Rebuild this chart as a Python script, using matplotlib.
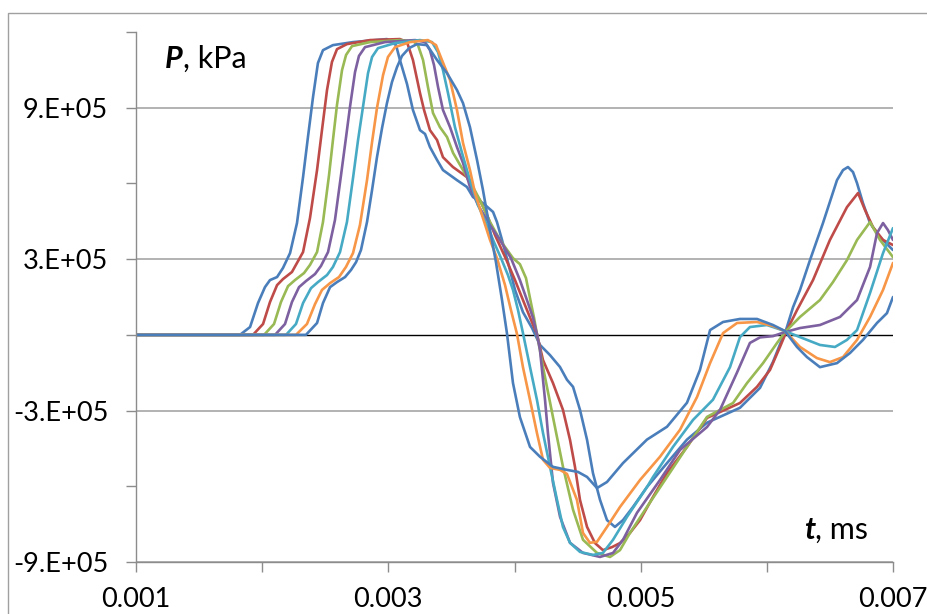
import numpy as np
import matplotlib
matplotlib.use('Agg')
import matplotlib.pyplot as plt
from matplotlib.patches import Rectangle

# pressure traces at seven gauges, t in ms-axis units, P in kPa
t1 = [0.001, 0.001824, 0.001904, 0.001967, 0.002022, 0.002062, 0.002118, 0.002165, 0.002221, 0.002276,
      0.002324, 0.002363, 0.002403, 0.002442, 0.002482, 0.002561, 0.002720, 0.002989, 0.003061, 0.003092,
      0.003148, 0.003195, 0.003251, 0.003291, 0.003330, 0.003386, 0.003433, 0.003544, 0.003623, 0.003671,
      0.003750, 0.003830, 0.003861, 0.003901, 0.003948, 0.004004, 0.004067, 0.004139, 0.004202, 0.004281,
      0.004360, 0.004416, 0.004464, 0.004519, 0.004575, 0.004622, 0.004678, 0.004733, 0.004796, 0.004860,
      0.004939, 0.005050, 0.005209, 0.005367, 0.005526, 0.005787, 0.005946, 0.006049, 0.006112, 0.006152,
      0.006208, 0.006263, 0.006342, 0.006445, 0.006556, 0.006604, 0.006643, 0.006683, 0.006715, 0.006762,
      0.006818, 0.006897, 0.007]
p1 = [0, 0, 0.31e5, 1.26e5, 1.89e5, 2.17e5, 2.29e5, 2.65e5, 3.24e5, 4.43e5,
      6.25e5, 7.84e5, 9.42e5, 10.77e5, 11.28e5, 11.48e5, 11.60e5, 11.72e5, 11.48e5, 10.89e5,
      9.94e5, 8.91e5, 8.11e5, 7.96e5, 7.44e5, 6.93e5, 6.53e5, 6.13e5, 5.86e5, 5.46e5,
      5.22e5, 4.87e5, 4.47e5, 3.76e5, 2.88e5, 1.78e5, 0.90e5, 0.27e5, -0.40e5, -0.80e5,
      -1.27e5, -1.78e5, -2.06e5, -2.97e5, -4.16e5, -5.48e5, -6.54e5, -7.34e5, -7.61e5, -7.34e5,
      -6.82e5, -6.03e5, -5.08e5, -4.15e5, -3.48e5, -2.89e5, -2.10e5, -1.07e5, -0.28e5, 0.19e5,
      1.10e5, 1.78e5, 2.96e5, 4.43e5, 6.13e5, 6.53e5, 6.65e5, 6.45e5, 6.01e5, 5.22e5,
      4.43e5, 3.87e5, 3.36e5]

t2 = [0.001, 0.001927, 0.002007, 0.002062, 0.002118, 0.002165, 0.002236, 0.002324, 0.002379, 0.002435,
      0.002474, 0.002514, 0.002553, 0.002593, 0.002672, 0.002855, 0.003092, 0.003148, 0.003195, 0.003251,
      0.003283, 0.003330, 0.003386, 0.003433, 0.003512, 0.003623, 0.003671, 0.003726, 0.003782, 0.003845,
      0.003933, 0.004004, 0.004083, 0.004131, 0.004178, 0.004226, 0.004305, 0.004384, 0.004440, 0.004479,
      0.004519, 0.004575, 0.004638, 0.004701, 0.004773, 0.004836, 0.004915, 0.004995, 0.005098, 0.005209,
      0.005367, 0.005526, 0.005787, 0.005922, 0.006025, 0.006104, 0.006160, 0.006239, 0.006366, 0.006500,
      0.006635, 0.006723, 0.006778, 0.006841, 0.006921, 0.007]
p2 = [0, 0, 0.43e5, 1.30e5, 1.97e5, 2.21e5, 2.49e5, 3.28e5, 4.63e5, 6.53e5,
      8.11e5, 9.70e5, 10.81e5, 11.32e5, 11.52e5, 11.68e5, 11.72e5, 11.60e5, 10.89e5, 9.58e5,
      8.91e5, 8.11e5, 7.72e5, 7.04e5, 6.65e5, 6.25e5, 5.74e5, 5.34e5, 4.75e5, 3.96e5,
      3.00e5, 2.17e5, 1.18e5, 0.59e5, 0.03e5, -1.00e5, -1.91e5, -2.97e5, -4.16e5, -5.22e5,
      -6.54e5, -7.61e5, -8.25e5, -8.53e5, -8.41e5, -8.25e5, -7.85e5, -7.34e5, -6.42e5, -5.47e5,
      -4.44e5, -3.29e5, -2.70e5, -2.06e5, -1.39e5, -0.48e5, 0.19e5, 0.98e5, 2.17e5, 3.76e5,
      5.06e5, 5.62e5, 4.95e5, 4.27e5, 3.76e5, 3.56e5]

t3 = [0.001, 0.002015, 0.002094, 0.002149, 0.002205, 0.002260, 0.002332, 0.002379, 0.002435, 0.002482,
      0.002530, 0.002561, 0.002593, 0.002633, 0.002665, 0.002712, 0.002855, 0.003092, 0.003195, 0.003235,
      0.003275, 0.003314, 0.003354, 0.003409, 0.003465, 0.003513, 0.003592, 0.003671, 0.003726, 0.003806,
      0.003885, 0.003988, 0.004043, 0.004091, 0.004123, 0.004155, 0.004178, 0.004226, 0.004305, 0.004384,
      0.004464, 0.004543, 0.004654, 0.004757, 0.004836, 0.004915, 0.005050, 0.005209, 0.005367, 0.005526,
      0.005732, 0.005843, 0.005970, 0.006081, 0.006144, 0.006263, 0.006421, 0.006524, 0.006635, 0.006715,
      0.006818, 0.006897, 0.007]
p3 = [0, 0, 0.43e5, 1.30e5, 1.93e5, 2.17e5, 2.45e5, 2.77e5, 3.28e5, 4.47e5,
      6.33e5, 7.72e5, 9.11e5, 10.49e5, 11.09e5, 11.44e5, 11.60e5, 11.68e5, 11.64e5, 11.48e5,
      10.89e5, 9.82e5, 8.79e5, 8.23e5, 7.84e5, 7.21e5, 6.53e5, 5.86e5, 5.34e5, 4.47e5,
      3.76e5, 3.04e5, 2.80e5, 2.25e5, 1.45e5, 0.67e5, 0.03e5, -1.28e5, -3.26e5, -5.22e5,
      -6.93e5, -8.12e5, -8.64e5, -8.80e5, -8.53e5, -7.85e5, -6.82e5, -5.63e5, -4.44e5, -3.25e5,
      -2.70e5, -1.91e5, -1.12e5, -0.32e5, 0.11e5, 0.71e5, 1.38e5, 2.09e5, 2.96e5, 3.76e5,
      4.47e5, 3.76e5, 3.08e5]

t4 = [0.001, 0.002102, 0.002181, 0.002236, 0.002292, 0.002347, 0.002419, 0.002466, 0.002522, 0.002577,
      0.002625, 0.002664, 0.002696, 0.002736, 0.002767, 0.002815, 0.002974, 0.003212, 0.003291, 0.003330,
      0.003362, 0.003394, 0.003433, 0.003489, 0.003544, 0.003592, 0.003647, 0.003711, 0.003806, 0.003885,
      0.003972, 0.004043, 0.004107, 0.004147, 0.004178, 0.004202, 0.004242, 0.004265, 0.004305, 0.004361,
      0.004440, 0.004543, 0.004678, 0.004781, 0.004860, 0.004971, 0.005153, 0.005312, 0.005526, 0.005629,
      0.005763, 0.005866, 0.005946, 0.006049, 0.006144, 0.006263, 0.006421, 0.006580, 0.006715, 0.006818,
      0.006873, 0.006921, 0.006960, 0.007]
p4 = [0, 0, 0.43e5, 1.30e5, 1.89e5, 2.13e5, 2.41e5, 2.73e5, 3.28e5, 4.55e5,
      6.33e5, 7.80e5, 9.03e5, 10.41e5, 11.05e5, 11.40e5, 11.60e5, 11.68e5, 11.60e5, 11.28e5,
      10.69e5, 9.82e5, 8.91e5, 8.23e5, 7.44e5, 6.81e5, 5.86e5, 5.14e5, 4.35e5, 3.76e5,
      3.04e5, 2.17e5, 1.26e5, 0.67e5, 0.03e5, -0.60e5, -2.58e5, -3.89e5, -5.86e5, -7.21e5,
      -8.24e5, -8.64e5, -8.80e5, -8.64e5, -8.12e5, -7.05e5, -5.75e5, -4.56e5, -3.65e5, -2.97e5,
      -1.50e5, -0.32e5, -0.10e5, -0.05e5, 0.11e5, 0.27e5, 0.39e5, 0.71e5, 1.38e5, 2.69e5,
      4.03e5, 4.43e5, 4.15e5, 3.76e5]

t5 = [0.001, 0.002189, 0.002268, 0.002324, 0.002387, 0.002442, 0.002514, 0.002561, 0.002617, 0.002672,
      0.002720, 0.002760, 0.002799, 0.002839, 0.002871, 0.002918, 0.003053, 0.003251, 0.003346, 0.003394,
      0.003433, 0.003473, 0.003528, 0.003584, 0.003623, 0.003663, 0.003711, 0.003782, 0.003837, 0.003893,
      0.003948, 0.003988, 0.004028, 0.004067, 0.004123, 0.004178, 0.004226, 0.004281, 0.004337, 0.004384,
      0.004440, 0.004519, 0.004622, 0.004701, 0.004781, 0.004892, 0.005050, 0.005098, 0.005256, 0.005415,
      0.005573, 0.005708, 0.005787, 0.005866, 0.006001, 0.006144, 0.006263, 0.006421, 0.006540, 0.006635,
      0.006715, 0.006818, 0.006921, 0.007]
p5 = [0, 0, 0.43e5, 1.26e5, 1.85e5, 2.09e5, 2.37e5, 2.69e5, 3.28e5, 4.47e5,
      6.21e5, 7.72e5, 9.03e5, 10.37e5, 11.01e5, 11.36e5, 11.56e5, 11.68e5, 11.60e5, 11.20e5,
      10.49e5, 9.58e5, 8.23e5, 7.21e5, 6.53e5, 5.86e5, 5.14e5, 4.35e5, 3.68e5, 3.04e5,
      2.37e5, 1.78e5, 0.98e5, 0.07e5, -1.28e5, -2.58e5, -3.89e5, -5.22e5, -6.54e5, -7.61e5,
      -8.24e5, -8.60e5, -8.72e5, -8.64e5, -8.12e5, -7.21e5, -6.03e5, -5.63e5, -4.44e5, -3.37e5,
      -2.57e5, -1.28e5, -0.09e5, 0.31e5, 0.39e5, 0.15e5, -0.09e5, -0.40e5, -0.48e5, -0.20e5,
      0.19e5, 1.66e5, 3.24e5, 4.23e5]

t6 = [0.001, 0.002268, 0.002355, 0.002419, 0.002474, 0.002538, 0.002609, 0.002664, 0.002720, 0.002775,
      0.002831, 0.002871, 0.002910, 0.002958, 0.002997, 0.003053, 0.003172, 0.003314, 0.003378, 0.003425,
      0.003489, 0.003544, 0.003592, 0.003647, 0.003687, 0.003742, 0.003806, 0.003861, 0.003925, 0.003972,
      0.004020, 0.004067, 0.004123, 0.004178, 0.004226, 0.004281, 0.004361, 0.004416, 0.004495, 0.004543,
      0.004598, 0.004654, 0.004733, 0.004836, 0.004995, 0.005153, 0.005312, 0.005447, 0.005550, 0.005653,
      0.005764, 0.005922, 0.006049, 0.006144, 0.006263, 0.006397, 0.006500, 0.006604, 0.006715, 0.006818,
      0.006921, 0.007]
p6 = [0, 0, 0.43e5, 1.22e5, 1.78e5, 2.05e5, 2.29e5, 2.69e5, 3.24e5, 4.35e5,
      6.13e5, 7.64e5, 8.99e5, 10.29e5, 11.01e5, 11.40e5, 11.60e5, 11.68e5, 11.48e5, 10.89e5,
      10.10e5, 8.91e5, 7.60e5, 6.53e5, 5.62e5, 4.75e5, 3.76e5, 3.04e5, 1.97e5, 0.98e5,
      0.03e5, -1.28e5, -2.58e5, -3.89e5, -4.95e5, -5.27e5, -5.35e5, -5.51e5, -6.54e5, -7.85e5,
      -8.24e5, -8.20e5, -7.61e5, -6.82e5, -5.75e5, -4.83e5, -3.76e5, -2.46e5, -1.12e5, 0.07e5,
      0.47e5, 0.51e5, 0.35e5, 0.15e5, -0.48e5, -0.92e5, -1.08e5, -0.88e5, -0.20e5, 0.71e5,
      1.78e5, 2.85e5]

t7 = [0.001, 0.002347, 0.002435, 0.002482, 0.002538, 0.002593, 0.002657, 0.002704, 0.002744, 0.002783,
      0.002831, 0.002871, 0.002910, 0.002950, 0.002989, 0.003029, 0.003069, 0.003108, 0.003164, 0.003227,
      0.003306, 0.003386, 0.003465, 0.003544, 0.003592, 0.003647, 0.003703, 0.003750, 0.003806, 0.003853,
      0.003901, 0.003940, 0.003988, 0.004043, 0.004123, 0.004202, 0.004305, 0.004416, 0.004503, 0.004575,
      0.004654, 0.004733, 0.004860, 0.005050, 0.005209, 0.005367, 0.005470, 0.005550, 0.005653, 0.005787,
      0.005922, 0.006049, 0.006144, 0.006239, 0.006318, 0.006421, 0.006556, 0.006659, 0.006762, 0.006873,
      0.006952, 0.007]
p7 = [0, 0, 0.47e5, 1.26e5, 1.89e5, 2.09e5, 2.29e5, 2.57e5, 2.88e5, 3.36e5,
      4.47e5, 5.74e5, 7.04e5, 8.19e5, 9.18e5, 10.02e5, 10.61e5, 11.05e5, 11.36e5, 11.52e5,
      11.48e5, 10.89e5, 10.37e5, 9.70e5, 9.18e5, 8.23e5, 6.93e5, 5.74e5, 4.15e5, 2.88e5,
      1.38e5, 0.07e5, -1.91e5, -3.26e5, -4.44e5, -4.83e5, -5.23e5, -5.35e5, -5.43e5, -5.63e5,
      -6.07e5, -5.83e5, -5.08e5, -4.15e5, -3.64e5, -2.69e5, -1.39e5, 0.19e5, 0.51e5, 0.63e5,
      0.63e5, 0.39e5, 0.15e5, -0.48e5, -0.88e5, -1.28e5, -1.12e5, -0.72e5, -0.20e5, 0.47e5,
      0.86e5, 1.50e5]

series = [(t1, p1), (t2, p2), (t3, p3), (t4, p4), (t5, p5), (t6, p6), (t7, p7)]
colors = ['#4A7EBB', '#BE4B48', '#98B954', '#7D60A0', '#46AAC5', '#F79646', '#4A7EBB']

y_major = [-9e5, -3e5, 3e5, 9e5]
y_labels = ['-9.E+05', '-3.E+05', '3.E+05', '9.E+05']
y_minor = [-6e5, 0, 6e5, 1.2e6]
x_major = [0.001, 0.003, 0.005, 0.007]
x_labels = ['0.001', '0.003', '0.005', '0.007']
x_minor = [0.002, 0.004, 0.006]

plt.rcParams['font.family'] = ['Lato', 'DejaVu Sans']

W, H = 927, 614
fig = plt.figure(figsize=(W / 100, H / 100), dpi=100)
ax = fig.add_axes([136 / W, 1 - 562 / H, 757 / W, 530 / H])

ax.axhline(0, color='black', lw=1.0, zorder=1.5)
for (t, p), c in zip(series, colors):
    ax.plot(t, p, color=c, lw=1.9, solid_joinstyle='round', solid_capstyle='round', zorder=2)

ax.set_xlim(0.001, 0.007)
ax.set_ylim(-9e5, 1.2e6)
ax.set_yticks(y_major)
ax.set_yticklabels(y_labels)
ax.set_yticks(y_minor, minor=True)
ax.set_xticks(x_major)
ax.set_xticklabels(x_labels)
ax.set_xticks(x_minor, minor=True)

ax.grid(axis='y', which='major', color='#A6A6A6', lw=1.2)
ax.set_axisbelow(True)
for s in ['top', 'right']:
    ax.spines[s].set_visible(False)
for s in ['left', 'bottom']:
    ax.spines[s].set_color('#8C8C8C')
    ax.spines[s].set_linewidth(1.0)
ax.tick_params(which='both', direction='out', length=7, width=1, color='#8C8C8C')
ax.tick_params(axis='y', which='major', labelsize=19.5, pad=13)
ax.tick_params(axis='x', which='major', labelsize=19.5, pad=11)

# chart area border
fig.patches.append(Rectangle((8 / W, -0.05), 1.0, 1 - 13 / H + 0.05, transform=fig.transFigure,
                             fill=False, ec='#A0A0A0', lw=1.0))

# axis captions: bold italic symbol + plain unit
fig.canvas.draw()
r = fig.canvas.get_renderer()
def caption(x, y, sym, rest):
    a = fig.text(x / W, 1 - y / H, sym, fontsize=22, weight='bold', style='italic', va='baseline')
    bb = a.get_window_extent(renderer=r)
    fig.text(bb.x1 / W, 1 - y / H, rest, fontsize=22, va='baseline')

caption(165, 68, 'P', ', kPa')
caption(804, 539, 't', ', ms')

fig.savefig('out.png', dpi=100)
